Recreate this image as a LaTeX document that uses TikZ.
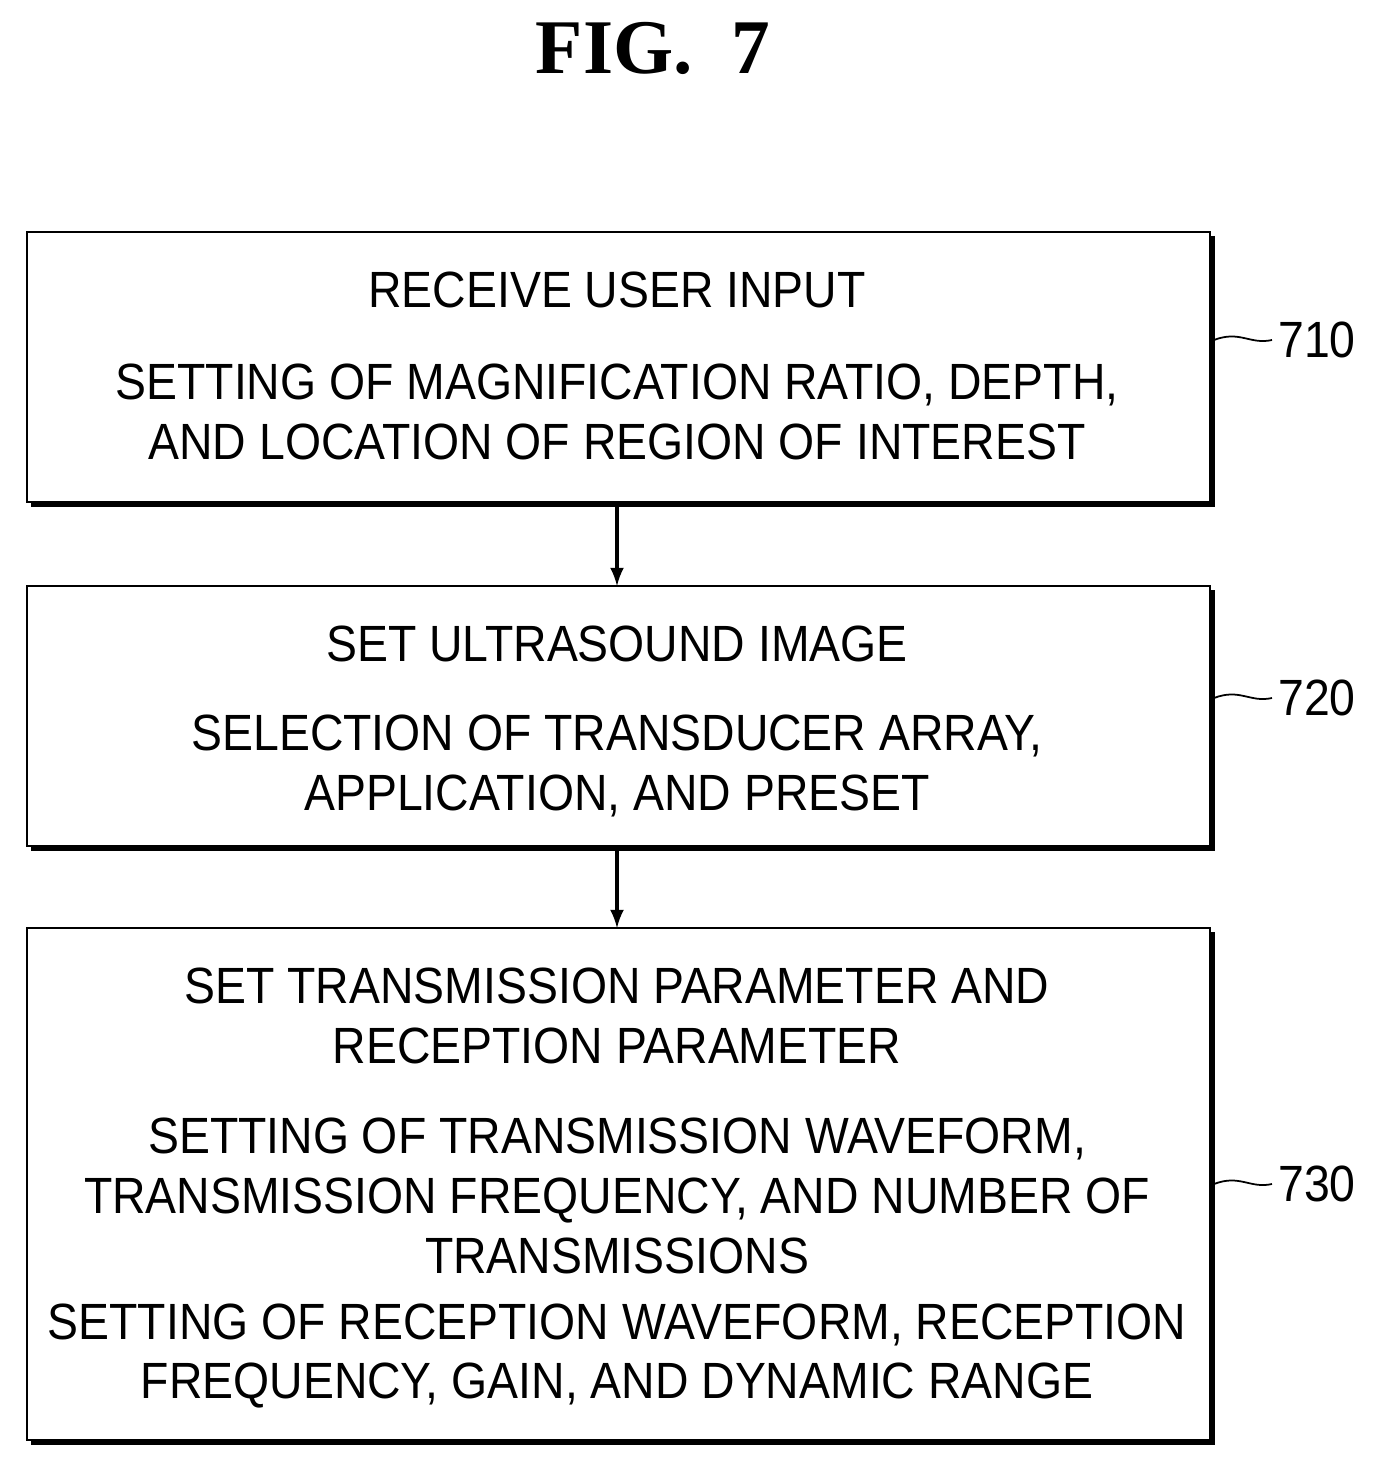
\documentclass[tikz,border=0pt]{standalone}
\usepackage{fontspec}
\setmainfont{Liberation Sans}[FakeStretch=0.91]
\newfontfamily\figfont{Liberation Serif}
\usetikzlibrary{calc,positioning}

\begin{document}
\begin{tikzpicture}[x=0.02cm,y=-0.02cm,
    box/.style={draw,line width=1.5pt},
    txt/.style={font=\fontsize{29}{34}\selectfont,align=center},
    reflabel/.style={font=\fontsize{29}{34}\selectfont,anchor=west},
 ]
    \useasboundingbox (0,0) rectangle (1388,1462);
    \node (T) at (653,48) {\figfont\bfseries\fontsize{44}{50}\selectfont FIG.\ \ 7};

    % boxes, with a heavier edge right and below
    \draw[box] (27,232) rectangle (1210,502);
    \draw[line width=3pt] (1212,236) -- (1212,504) -- (31,504);
    \draw[box] (27,586) rectangle (1210,846);
    \draw[line width=3pt] (1212,590) -- (1212,848) -- (31,848);
    \draw[box] (27,928) rectangle (1210,1440);
    \draw[line width=3pt] (1212,932) -- (1212,1442) -- (31,1442);

    \coordinate (B1t) at (617,232); \coordinate (B1b) at (617,504);
    \coordinate (B2t) at (617,586); \coordinate (B2b) at (617,848);
    \coordinate (B3t) at (617,928);

    \node[txt] (A1) at (617,290) {RECEIVE USER INPUT};
    \node[txt] (A2) at (617,412) {SETTING OF MAGNIFICATION RATIO, DEPTH,\\AND LOCATION OF REGION OF INTEREST};
    \node[txt] (B1) at (617,644) {SET ULTRASOUND IMAGE};
    \node[txt] (B2) at (617,766) {SELECTION OF TRANSDUCER ARRAY,\\APPLICATION, AND PRESET};
    \node[txt] (C1) at (617,1016) {SET TRANSMISSION PARAMETER AND\\RECEPTION PARAMETER};
    \node[txt] (C2) at (617,1196) {SETTING OF TRANSMISSION WAVEFORM,\\TRANSMISSION FREQUENCY, AND NUMBER OF\\TRANSMISSIONS};
    \node[txt] (C3) at (617,1356) {SETTING OF RECEPTION WAVEFORM, RECEPTION\\FREQUENCY, GAIN, AND DYNAMIC RANGE};

    \draw[line width=2.5pt,-latex] (B1b) -- (B2t);
    \draw[line width=2.5pt,-latex] (B2b) -- (B3t);

    \node[reflabel] (L1) at (1272,340) {710};
    \node[reflabel] (L2) at (1272,698) {720};
    \node[reflabel] (L3) at (1272,1184) {730};
    \draw[line width=1pt] (1214,340) .. controls (1240,330) and (1250,345) .. (L1.west);
    \draw[line width=1pt] (1214,698) .. controls (1240,688) and (1250,703) .. (L2.west);
    \draw[line width=1pt] (1214,1184) .. controls (1240,1174) and (1250,1189) .. (L3.west);
\end{tikzpicture}
\end{document}
